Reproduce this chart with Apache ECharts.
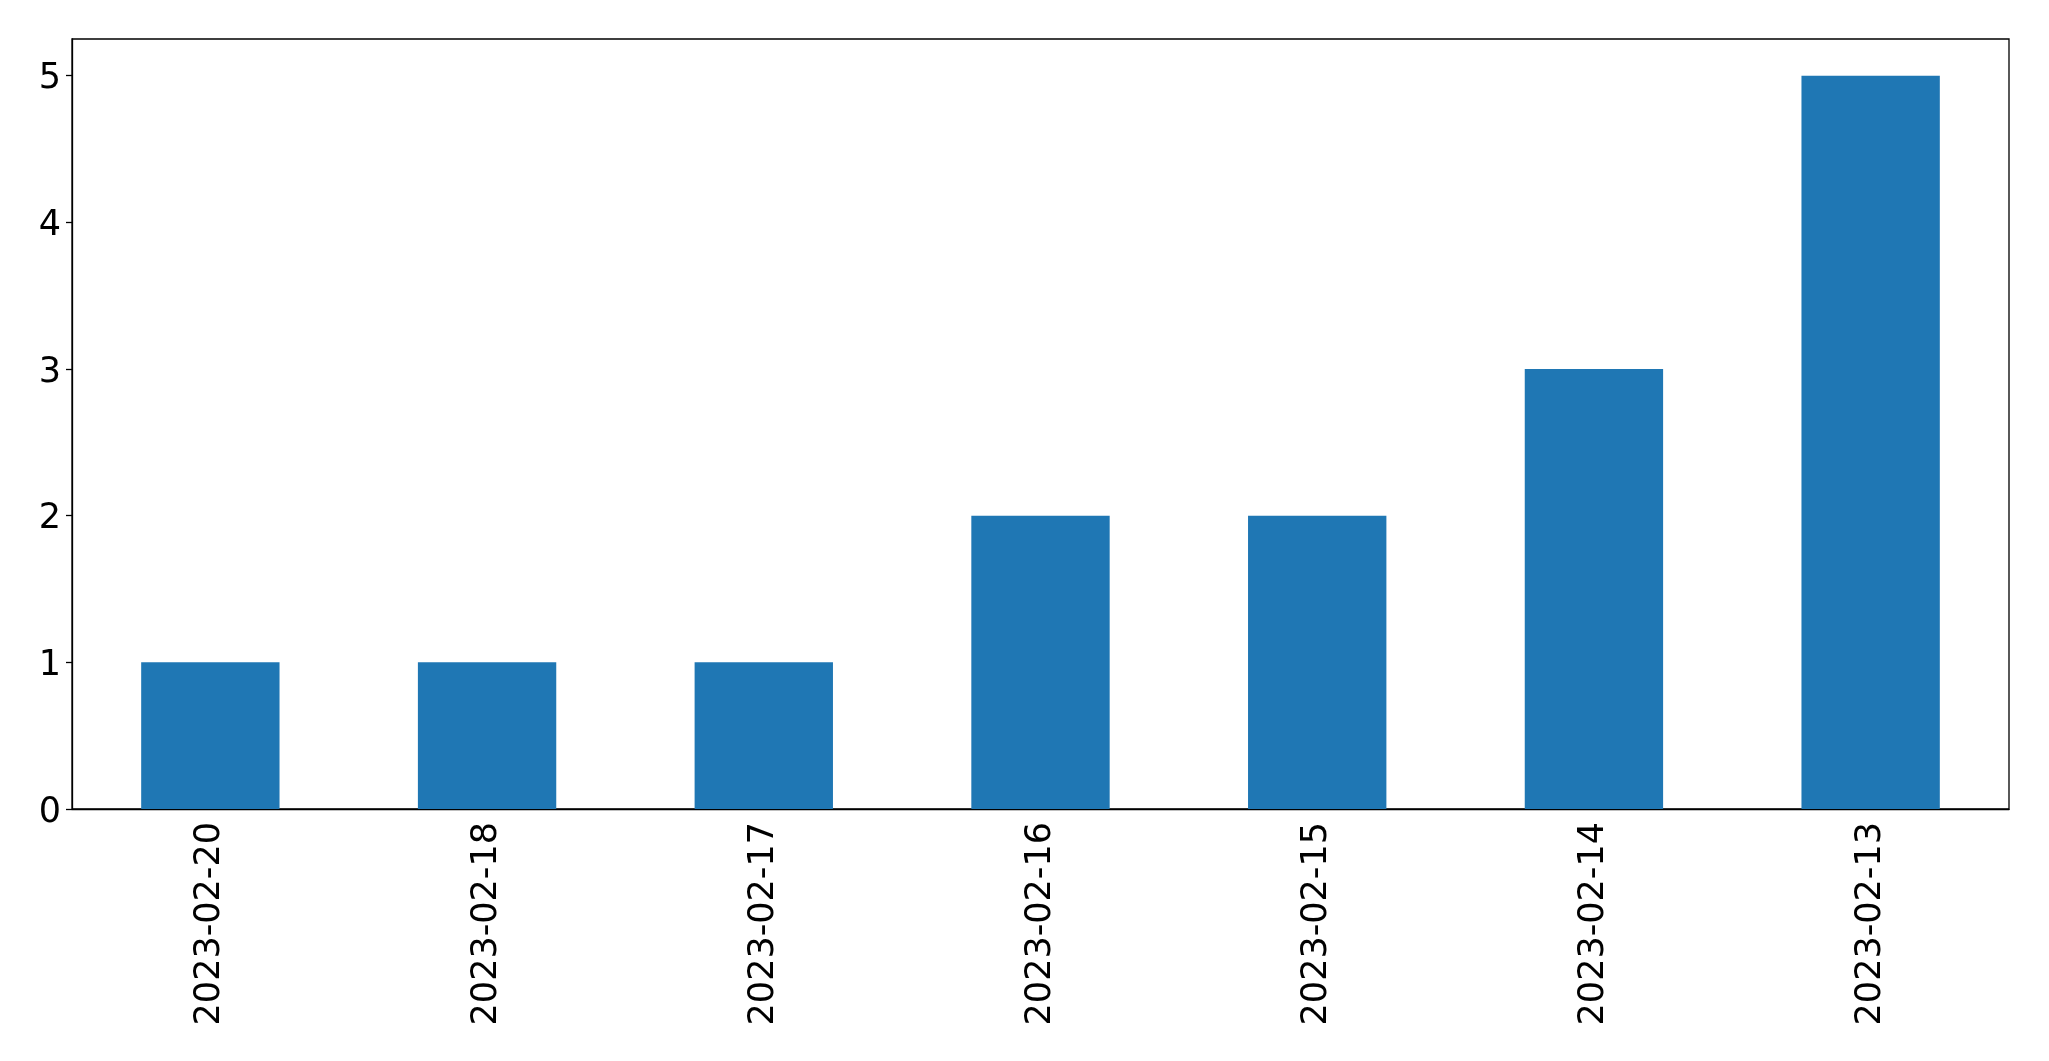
<!DOCTYPE html>
<html><head><meta charset="utf-8">
<script src="https://cdn.jsdelivr.net/npm/echarts@6/dist/echarts.min.js"></script>
<style>html,body{margin:0;padding:0;background:#fff}#c{width:2049px;height:1061px}</style>
</head><body><div id="c"></div>
<script>
const categories = ['2023-02-20','2023-02-18','2023-02-17','2023-02-16','2023-02-15','2023-02-14','2023-02-13'];
const counts = [1, 1, 1, 2, 2, 3, 5];
const yTicks = [0, 1, 2, 3, 4, 5];

const chart = echarts.init(document.getElementById('c'));
chart.setOption({
  animation: false,
  textStyle: { fontFamily: 'DejaVu Sans' },
  grid: { left: 72, top: 39, width: 1937, height: 770, show: true, borderColor: '#000', borderWidth: 1.3, containLabel: false },
  xAxis: {
    type: 'category', data: categories, boundaryGap: true,
    axisLine: { lineStyle: { color: '#000', width: 1.3 } },
    axisTick: { alignWithLabel: true, length: 6, lineStyle: { color: '#000', width: 1.3 } },
    axisLabel: { rotate: 90, fontSize: 35, color: '#000', margin: 13, fontFamily: 'DejaVu Sans' },
    splitLine: { show: false }
  },
  yAxis: {
    type: 'value', min: 0, max: 5.25, interval: 1,
    axisLine: { show: true, lineStyle: { color: '#000', width: 1.3 } },
    axisTick: { show: true, length: 6, customValues: yTicks, lineStyle: { color: '#000', width: 1.3 } },
    axisLabel: {
      color: '#000', margin: 11, customValues: yTicks,
      formatter: function (v) { return '{a|' + v + '}'; },
      rich: { a: { fontSize: 35, color: '#000', fontFamily: 'DejaVu Sans', padding: [7, 0, 0, 0] } }
    },
    splitLine: { show: false }
  },
  series: [{
    type: 'bar', data: counts, barWidth: '50%',
    itemStyle: { color: '#1f77b4' }
  }]
});
</script></body></html>
